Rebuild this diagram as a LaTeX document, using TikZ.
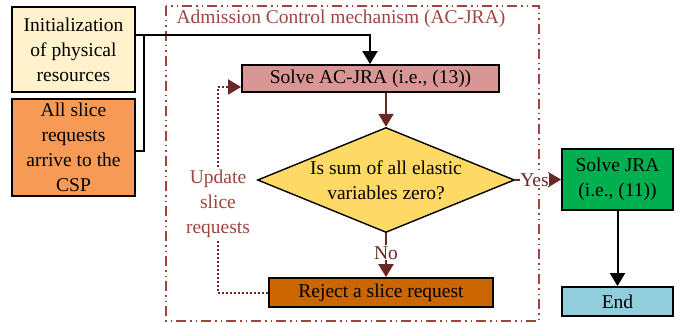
\documentclass[tikz,border=0pt]{standalone}
\usepackage{fontspec}
\setmainfont{Liberation Serif}
\usetikzlibrary{arrows.meta,shapes.geometric,calc}
\definecolor{initc}{HTML}{FFF2CC}
\definecolor{slicec}{HTML}{F79A55}
\definecolor{acc}{HTML}{D99694}
\definecolor{diac}{HTML}{FFD966}
\definecolor{jrac}{HTML}{00B050}
\definecolor{endc}{HTML}{92CDDC}
\definecolor{rejc}{HTML}{CC6600}
\definecolor{framec}{HTML}{A0443E}
\definecolor{arrc}{HTML}{6B2626}
\tikzset{
  box/.style={draw=black,line width=1.8pt,inner sep=0pt,align=center,font=\fontsize{19.5}{25}\selectfont},
  tipend/.style={-{Triangle[width=15pt,length=13pt]}},
  redarr/.style={draw=arrc,line width=2pt,tipend},
  blkarr/.style={draw=black,line width=2pt,tipend},
  lbl/.style={text=framec,font=\fontsize{19.5}{25}\selectfont,align=center},
}
\begin{document}
\begin{tikzpicture}[x=1pt,y=-1pt]
\useasboundingbox (0,0) rectangle (692,323);
% frame
\draw[framec,line width=1.8pt,dash pattern=on 10pt off 4pt on 1.5pt off 4pt on 1.5pt off 4pt] (166,6) rectangle (539,321);
\node[lbl,anchor=west] (title) at (173,19) {Admission Control mechanism (AC-JRA)};
% nodes
\node[box,fill=initc,minimum width=123pt,minimum height=85pt] (init) at (73.5,49.5) {Initialization\\of physical\\resources};
\node[box,fill=slicec,minimum width=123pt,minimum height=97pt] (slice) at (73.5,147.5) {All slice\\requests\\arrive to the\\CSP};
\node[box,fill=acc,minimum width=257pt,minimum height=27pt] (ac) at (370.5,78.5) {Solve AC-JRA (i.e., (13))};
\node[box,line width=1.4pt,fill=diac,diamond,aspect=2.45,minimum width=257pt,minimum height=105pt,inner sep=0pt] (dia) at (386,180) {};
\node[align=center,font=\fontsize{19.5}{25}\selectfont] (diat) at (386,180) {Is sum of all elastic\\variables zero?};
\node[box,fill=jrac,minimum width=111pt,minimum height=61pt] (jra) at (617.5,179.5) {Solve JRA\\(i.e., (11))};
\node[box,fill=endc,minimum width=111pt,minimum height=29pt] (end) at (617.5,301.5) {End};
\node[box,fill=rejc,minimum width=224pt,minimum height=29pt] (rej) at (381,292.5) {Reject a slice request};
% connectors
\coordinate (j1) at (144,35);
\coordinate (j2) at (370,35);
\draw[black,line width=2pt] (init.east |- j1) -- (j1) |- (slice.east |- 0,151);
\draw[blkarr] (j1) -- (j2) -- (ac.north -| j2);
\draw[redarr] (ac.south -| dia.north) -- (dia.north);
\draw[redarr] (dia.south) -- node[lbl,fill=white,inner sep=1pt,text=arrc,pos=0.45] (no) {No} (rej.north -| dia.south);
\draw[redarr] (dia.east) -- node[lbl,fill=white,inner sep=0pt,text=arrc,pos=0.42] (yes) {Yes} (jra.west);
\draw[blkarr] (jra.south) -- (end.north);
\coordinate (l1) at (218,292.5);
\coordinate (l2) at (218,87);
\draw[arrc,line width=2pt,dash pattern=on 2pt off 2pt] (rej.west) -- (l1) -- (l2);
\draw[redarr,dash pattern=on 2pt off 2pt] (l2) -- (ac.west |- l2);
\node[lbl,fill=white,inner sep=2pt] (upd) at (218,204) {Update\\slice\\requests};
\end{tikzpicture}
\end{document}
